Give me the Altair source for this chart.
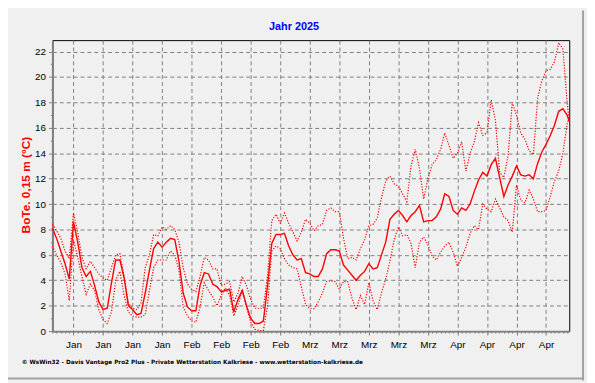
import altair as alt
import pandas as pd

# day index (0 = 1 Jan 2025)
days = list(range(123)) + [122.5]

avg_temp = [8.1, 7.3, 6.3, 5.3, 4.1, 8.6, 7.0, 5.0, 4.3, 4.7,
            3.6, 2.3, 1.7, 1.8, 3.8, 5.6, 5.6, 4.2, 2.0, 1.7,
            1.3, 1.4, 3.0, 4.8, 6.5, 7.0, 6.6, 7.0, 7.3, 7.2,
            5.5, 3.0, 1.9, 1.6, 1.6, 3.6, 4.6, 4.5, 3.7, 3.5,
            3.1, 3.2, 3.3, 1.5, 2.5, 3.2, 2.0, 1.0, 0.6, 0.6,
            0.8, 3.6, 6.9, 7.6, 7.6, 7.7, 6.7, 6.0, 5.6, 5.7,
            4.6, 4.5, 4.3, 4.3, 4.9, 6.1, 6.4, 6.4, 6.3, 5.2,
            4.8, 4.4, 4.0, 4.4, 4.7, 5.3, 4.9, 5.0, 6.0, 7.0,
            8.8, 9.2, 9.5, 9.1, 8.6, 9.1, 9.4, 9.9, 8.6, 8.7,
            8.7, 9.0, 9.6, 10.8, 10.6, 9.5, 9.2, 9.7, 9.5, 10.0,
            11.0, 11.9, 12.5, 12.2, 13.1, 13.6, 12.1, 10.6, 11.5, 12.2,
            13.0, 12.3, 12.2, 12.3, 12.0, 13.2, 14.1, 14.7, 15.4, 16.2,
            17.3, 17.5, 17.0, 16.5]

max_temp = [8.4, 7.9, 7.3, 6.3, 5.7, 9.3, 7.8, 5.8, 4.9, 5.5,
            5.0, 4.5, 4.2, 4.0, 5.0, 6.0, 6.1, 4.3, 2.2, 1.8,
            1.7, 2.2, 5.0, 6.0, 7.6, 7.5, 8.2, 8.0, 8.3, 8.0,
            7.0, 5.0, 3.7, 3.3, 3.1, 4.3, 5.8, 5.6, 4.9, 4.9,
            3.6, 3.7, 3.9, 2.3, 3.0, 4.3, 3.6, 2.5, 1.8, 1.8,
            1.8, 4.4, 8.7, 9.2, 8.5, 9.3, 8.5, 7.8, 7.1, 7.8,
            8.8, 8.5, 7.9, 8.3, 8.4, 9.5, 9.7, 9.4, 9.4, 7.3,
            5.7, 5.8, 5.6, 6.5, 7.2, 8.3, 8.4, 8.9, 10.5, 11.8,
            12.2, 11.6, 11.4, 10.8, 10.2, 13.0, 14.3, 12.8, 10.4, 12.0,
            13.1, 13.5, 14.3, 15.6, 14.6, 13.6, 14.0, 14.9, 12.6, 14.0,
            14.9, 16.4, 15.4, 15.6, 18.2, 16.6, 12.5, 12.1, 13.8, 18.0,
            17.0, 15.6, 15.1, 14.2, 13.9, 18.3, 19.7, 20.5, 20.6, 21.2,
            22.7, 22.2, 18.0, 16.5]

min_temp = [6.7, 6.0, 5.4, 4.5, 2.4, 7.2, 5.8, 4.3, 2.9, 3.7,
            3.2, 1.7, 0.9, 0.6, 1.5, 4.0, 4.7, 2.8, 1.5, 1.2,
            1.1, 1.1, 1.3, 3.2, 5.0, 5.6, 5.6, 5.6, 6.3, 6.0,
            4.8, 1.9, 1.2, 0.8, 0.7, 1.9, 3.8, 3.2, 2.7, 2.0,
            2.8, 3.4, 2.8, 1.2, 2.0, 3.3, 1.9, 0.7, 0.15, 0.05,
            0.05, 2.0, 6.3, 6.7, 6.5, 5.7, 5.2, 5.0, 4.9, 3.5,
            2.1, 1.76, 1.76, 2.3, 3.0, 3.9, 3.96, 3.9, 3.3, 3.9,
            3.9, 2.6, 1.7, 2.8, 2.1, 3.8, 2.4, 1.7, 3.0, 4.1,
            5.5, 7.2, 8.2, 7.5, 7.6, 6.9, 5.0, 7.0, 7.4, 6.8,
            5.9, 5.6, 6.2, 6.7, 7.0, 6.2, 5.1, 5.8, 6.6, 7.7,
            8.3, 8.0, 10.0, 9.6, 9.4, 10.4, 9.7, 9.0, 8.7, 7.8,
            11.5, 10.3, 10.1, 11.1, 10.4, 9.4, 9.4, 9.5, 10.6, 11.8,
            12.6, 14.0, 16.3, 16.9]

x_tick_days = [5, 12, 19, 26, 33, 40, 47, 54, 61, 68, 75, 82, 89, 96, 103, 110, 117]
x_tick_labels = ["Jan", "Jan", "Jan", "Jan", "Feb", "Feb", "Feb", "Feb",
                 "Mrz", "Mrz", "Mrz", "Mrz", "Mrz", "Apr", "Apr", "Apr", "Apr"]
x_minor_days = list(range(0, 123))
y_tick_values = [0, 2, 4, 6, 8, 10, 12, 14, 16, 18, 20, 22]
y_minor_values = [1, 3, 5, 7, 9, 11, 13, 15, 17, 19, 21]

chart_title = "Jahr 2025"
y_title = "BoTe. 0,15 m (°C)"
footer = "© WsWin32  -  Davis Vantage Pro2 Plus  -  Private Wetterstation Kalkriese - www.wetterstation-kalkriese.de"

df = pd.DataFrame({"day": days, "avg": avg_temp, "max": max_temp, "min": min_temp})

FONT = "Liberation Sans"
RED = "#FF0000"
GRAY = "#808080"

xscale = alt.Scale(domain=[0, 122.5], nice=False, zero=False)
yscale = alt.Scale(domain=[0, 22.9], nice=False, zero=True)

label_expr = ("[" + ",".join("'%s'" % l for l in x_tick_labels) + "][indexof(["
              + ",".join(str(v) for v in x_tick_days) + "], datum.value)]")

x_main = alt.X("day:Q", scale=xscale, title=None,
               axis=alt.Axis(values=x_tick_days, labelExpr=label_expr, grid=True,
                             gridDash=[4, 3], gridColor=GRAY, gridWidth=1,
                             domainColor=GRAY, domainWidth=2, tickColor=GRAY,
                             tickSize=4, labelPadding=5, labelFontSize=10,
                             labelColor="black", labelFont=FONT, orient="bottom"))
y_main = alt.Y("avg:Q", scale=yscale, title=None,
               axis=alt.Axis(values=y_tick_values, grid=True, gridDash=[4, 3],
                             gridColor=GRAY, gridWidth=1, domainColor=GRAY,
                             domainWidth=2, tickColor=GRAY, tickSize=4,
                             labelPadding=3, labelFontSize=10, labelColor="black",
                             labelFont=FONT, orient="left"))

avg_line = alt.Chart(df).mark_line(color=RED, strokeWidth=1.4).encode(x=x_main, y=y_main)

x_minor = alt.X("day:Q", scale=xscale, title=None,
                axis=alt.Axis(values=x_minor_days, labels=False, grid=False, domain=False,
                              tickColor=GRAY, tickSize=2, orient="bottom"))
y_minor = alt.Y("max:Q", scale=yscale, title=None,
                axis=alt.Axis(values=y_minor_values, labels=False, grid=False, domain=False,
                              tickColor=GRAY, tickSize=2, orient="left"))

max_line = alt.Chart(df).mark_line(color=RED, strokeWidth=1.2, strokeDash=[1.2, 1.6]).encode(
    x=x_minor, y=y_minor)

min_line = alt.Chart(df).mark_line(color=RED, strokeWidth=1.2, strokeDash=[1.2, 1.6]).encode(
    x=alt.X("day:Q", scale=xscale, axis=None),
    y=alt.Y("min:Q", scale=yscale, axis=None))

title_txt = alt.Chart(pd.DataFrame({"t": [chart_title]})).mark_text(
    font=FONT, fontSize=11, fontWeight="bold", color="#0000FF", align="center",
    baseline="alphabetic").encode(x=alt.value(245), y=alt.value(-10.5), text="t:N")

ytitle_txt = alt.Chart(pd.DataFrame({"t": [y_title]})).mark_text(
    font=FONT, fontSize=12, fontWeight="bold", color=RED, align="center",
    baseline="middle", angle=270).encode(x=alt.value(-27), y=alt.value(147), text="t:N")

footer_txt = alt.Chart(pd.DataFrame({"t": [footer]})).mark_text(
    font="DejaVu Sans", fontSize=5.8, fontWeight="bold", color="black", align="left",
    baseline="alphabetic").encode(x=alt.value(-31), y=alt.value(328), text="t:N")

# outer frame of the picture (right and bottom edge)
frame_df = pd.DataFrame({"k": [0]})
frame_right = alt.Chart(frame_df).mark_rule(color="#A0A0A0", strokeWidth=2).encode(
    x=alt.value(538), y=alt.value(-30), y2=alt.value(345))
frame_bottom = alt.Chart(frame_df).mark_rule(color="#A0A0A0", strokeWidth=2).encode(
    x=alt.value(-45), x2=alt.value(539), y=alt.value(343))

chart = alt.layer(avg_line, max_line, min_line, title_txt, ytitle_txt, footer_txt,
                  frame_right, frame_bottom).resolve_axis(
    x="independent", y="independent"
).properties(
    width=524, height=295,
    autosize=alt.AutoSizeParams(type="none"),
    padding={"left": 45, "top": 30, "right": 18, "bottom": 50},
    background="#F0F0F0",
).configure_view(stroke="black", strokeWidth=1, fill="#F0F0F0")

chart.save("out.html", embed_options={"renderer": "svg", "actions": False})
